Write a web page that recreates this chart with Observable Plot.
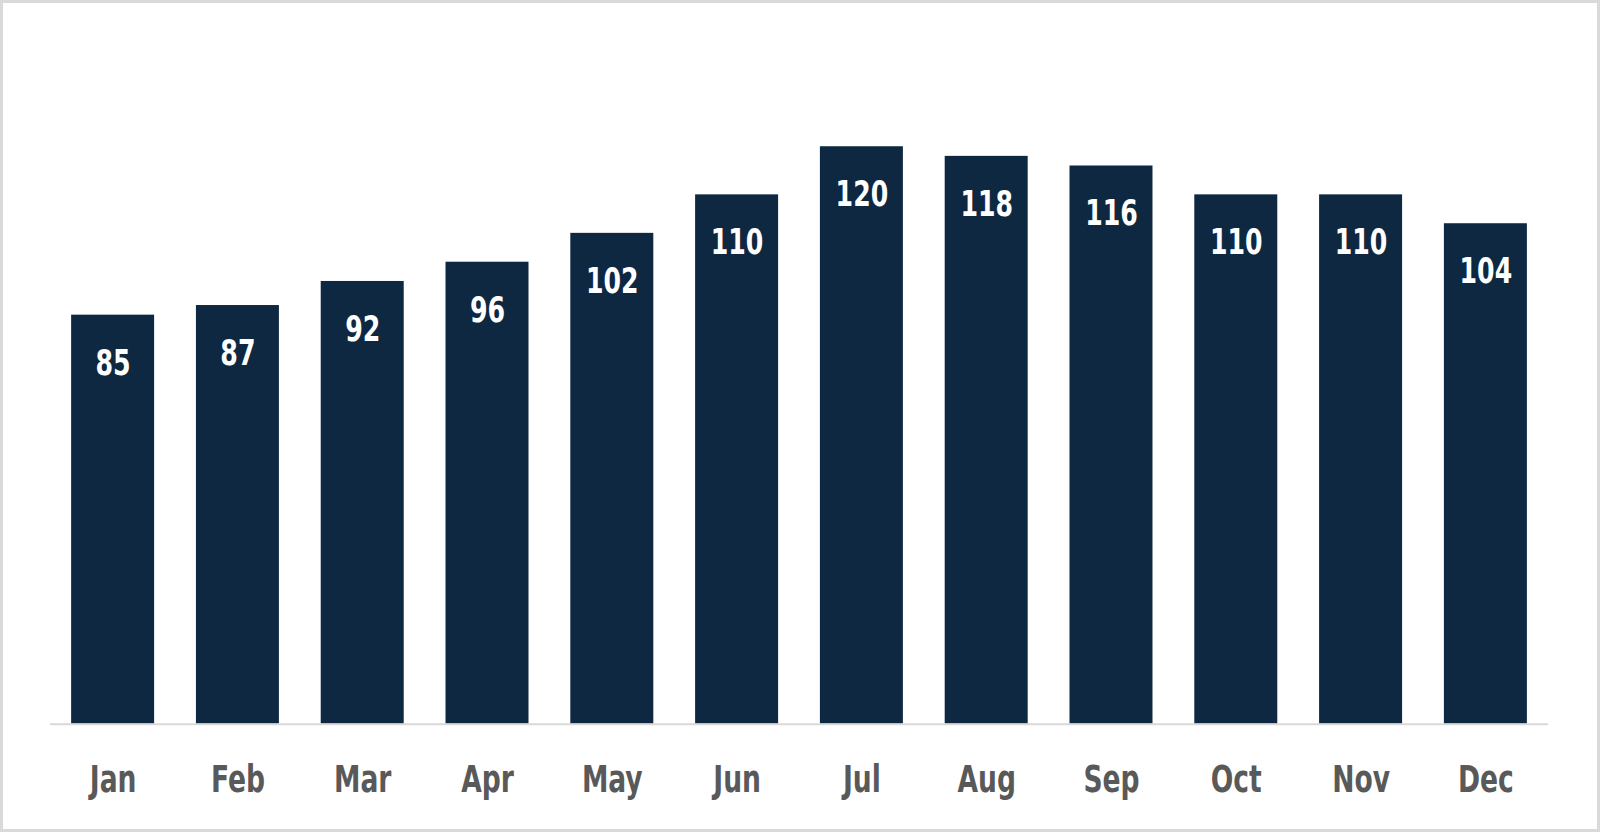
<!DOCTYPE html>
<html>
<head>
<meta charset="utf-8">
<script src="https://cdn.jsdelivr.net/npm/d3@7"></script>
<script src="https://cdn.jsdelivr.net/npm/@observablehq/plot@0.6"></script>
<style>
  html, body { margin: 0; padding: 0; background: #fff; }
  #frame {
    position: relative; width: 1600px; height: 832px; box-sizing: border-box;
    border: 3px solid #d9d9d9; background: #fff; overflow: hidden;
  }
  #chart { position: absolute; left: -3px; top: -3px; }
  #chart svg { font-family: "DejaVu Sans Condensed", "DejaVu Sans", sans-serif; font-stretch: condensed; }
</style>
</head>
<body>
<div id="frame"><div id="chart"></div></div>
<script>
const months = ["Jan","Feb","Mar","Apr","May","Jun","Jul","Aug","Sep","Oct","Nov","Dec"];
const values = [85, 87, 92, 96, 102, 110, 120, 118, 116, 110, 110, 104];

const data = months.map((m, i) => ({month: m, value: values[i]}));

const chart = Plot.plot({
  width: 1600,
  height: 832,
  marginTop: 26,
  marginBottom: 107,
  marginLeft: 50,
  marginRight: 49,
  style: {background: "transparent", overflow: "visible"},
  x: {domain: months, paddingInner: 0.335, paddingOuter: 0.17, round: false, label: null},
  y: {domain: [0, 145], axis: null},
  marks: [
    Plot.barY(data, {x: "month", y: "value", fill: "#0e2841"}),
    Plot.ruleY([0], {stroke: "#d9d9d9", strokeWidth: 2}),
    Plot.text(data, {x: "month", y: "value", text: d => String(d.value), dy: 48,
      fill: "#ffffff", fontSize: 36, fontWeight: "bold", lineAnchor: "middle",
      className: "barlabel"}),
    Plot.axisX({tickSize: 0, tickPadding: 42, fontSize: 37, fontWeight: "bold",
      fill: "#595959", label: null, className: "xaxis"})
  ]
});
document.getElementById("chart").appendChild(chart);

// condense glyphs to mimic the reference's narrow typeface
function condense(selector, factor) {
  chart.querySelectorAll(selector).forEach(t => {
    const len = t.getComputedTextLength();
    if (len > 0) {
      t.setAttribute("textLength", (len * factor).toFixed(1));
      t.setAttribute("lengthAdjust", "spacingAndGlyphs");
    }
  });
}
condense(".barlabel text", 0.78);
condense(".xaxis text", 0.8);
</script>
</body>
</html>
